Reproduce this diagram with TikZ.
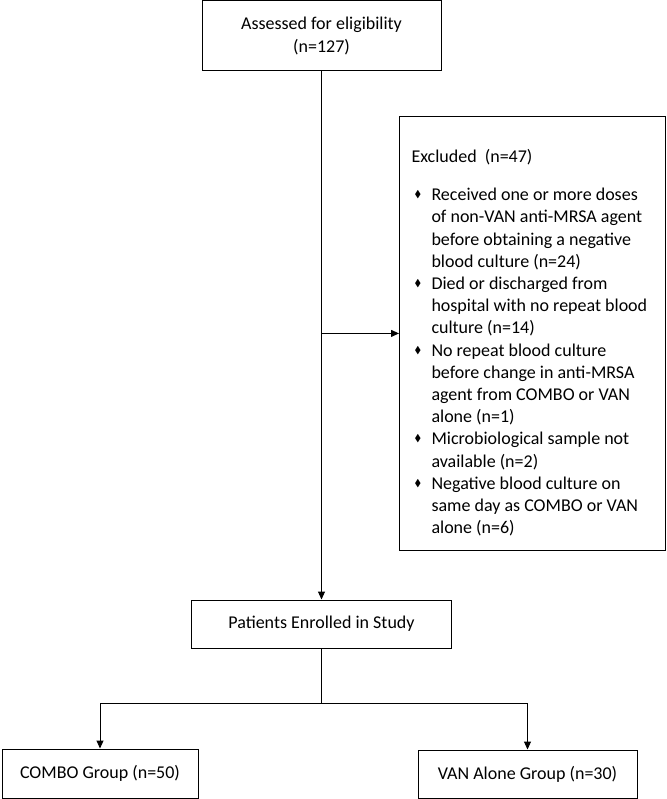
\documentclass[tikz,border=0pt]{standalone}
\usepackage{fontspec}
\setmainfont{Carlito}
\usepackage{amssymb}
\usepackage{graphicx}
\usetikzlibrary{arrows.meta,calc}

\tikzset{
  flowbox/.style={draw, line width=1pt, inner sep=0pt, align=center,
    font=\fontsize{18}{22.2}\selectfont},
  listbox/.style={draw, line width=1pt, inner xsep=12pt, inner ysep=10pt,
    anchor=north west, font=\fontsize{18}{22.2}\selectfont},
  flowarrow/.style={line width=1pt, -{Triangle[length=8pt,width=7pt]}}
}
\newcommand{\exclmark}{\hspace{3pt}\raisebox{3pt}{\scalebox{0.55}{$\blacklozenge$}}}

\begin{document}
\begin{tikzpicture}[x=1pt,y=1pt]
    \useasboundingbox (0,0) rectangle (666,-799);

    \node[flowbox, minimum width=239, minimum height=70] (assess) at (321.5,-36)
      {Assessed for eligibility\\(n=127)};
    \node[listbox] (excl) at (399,-116) {%
      \begin{tabular}{@{}p{20pt}@{}p{222pt}@{}}
        \multicolumn{2}{@{}l@{}}{\rule{0pt}{36pt}Excluded\ \ (n=47)}\\[16pt]
        \exclmark & Received one or more doses\\
        & of non-VAN anti-MRSA agent\\
        & before obtaining a negative\\
        & blood culture (n=24)\\
        \exclmark & Died or discharged from\\
        & hospital with no repeat blood\\
        & culture (n=14)\\
        \exclmark & No repeat blood culture\\
        & before change in anti-MRSA\\
        & agent from COMBO or VAN\\
        & alone (n=1)\\
        \exclmark & Microbiological sample not\\
        & available (n=2)\\
        \exclmark & Negative blood culture on\\
        & same day as COMBO or VAN\\
        & alone (n=6)
      \end{tabular}};
    \node[flowbox, minimum width=260, minimum height=48] (enrol) at (321.5,-624)
      {Patients Enrolled in Study};
    \node[flowbox, minimum width=196, minimum height=49] (combo) at (100,-773.5)
      {COMBO Group (n=50)};
    \node[flowbox, minimum width=219, minimum height=48] (van) at (527.5,-774)
      {VAN Alone Group (n=30)};

    \draw[flowarrow] (assess.south) -- (enrol.north);
    \draw[flowarrow] (assess.south |- excl.west) -- (excl.west);
    \coordinate (split) at (321.5,-703);
    \draw[line width=1pt] (enrol.south) -- (split);
    \draw[flowarrow] (split) -| (combo.north);
    \draw[flowarrow] (split) -| (van.north);
  \end{tikzpicture}
\end{document}
